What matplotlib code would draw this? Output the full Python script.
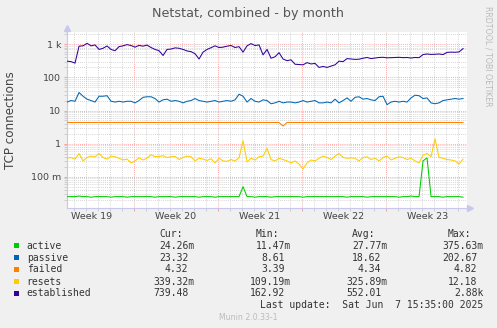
import numpy as np
import matplotlib
matplotlib.use("Agg")
import matplotlib.pyplot as plt
from matplotlib.ticker import FixedLocator, LogLocator, NullFormatter
from matplotlib.patches import Rectangle

# ---------------- data ----------------
series_names = ["active", "passive", "failed", "resets", "established"]
series_colors = ["#00CC00", "#0066B3", "#FF8000", "#FFCC00", "#330099"]

# sample times in days relative to Monday of week 20 (one sample every 8 hours)
t_start = -5.58
t_step = 1.0 / 3.0

active = [0.025, 0.025, 0.025, 0.026, 0.025, 0.025, 0.024, 0.025, 0.025, 0.025,
          0.025, 0.024, 0.025, 0.025, 0.025, 0.024, 0.025, 0.025, 0.025, 0.025,
          0.025, 0.025, 0.024, 0.025, 0.025, 0.025, 0.025, 0.024, 0.025, 0.025,
          0.025, 0.025, 0.025, 0.024, 0.025, 0.025, 0.025, 0.024, 0.025, 0.025,
          0.025, 0.025, 0.025, 0.025, 0.050, 0.025, 0.025, 0.024, 0.025, 0.025,
          0.025, 0.024, 0.025, 0.025, 0.025, 0.025, 0.025, 0.025, 0.025, 0.024,
          0.025, 0.025, 0.025, 0.025, 0.025, 0.025, 0.025, 0.025, 0.025, 0.025,
          0.024, 0.025, 0.025, 0.025, 0.025, 0.024, 0.025, 0.025, 0.025, 0.025,
          0.025, 0.025, 0.025, 0.024, 0.025, 0.025, 0.026, 0.025, 0.025, 0.300,
          0.370, 0.025, 0.025, 0.025, 0.024, 0.025, 0.025, 0.025, 0.025, 0.024]

passive = [18, 20, 19, 35, 27, 22, 20, 18, 27, 27,
           28, 19, 18, 19, 18, 19, 19, 17, 20, 25,
           26, 26, 23, 18, 21, 22, 19, 20, 19, 17,
           19, 20, 23, 20, 19, 18, 19, 20, 18, 19,
           20, 19, 21, 31, 27, 18, 23, 19, 18, 21,
           20, 16, 17, 19, 17, 18, 18, 17, 18, 20,
           18, 19, 20, 17, 17, 18, 17, 22, 17, 20,
           24, 19, 25, 26, 22, 23, 21, 20, 26, 27,
           15, 18, 19, 18, 19, 18, 24, 29, 28, 23,
           24, 17, 16, 17, 20, 21, 22, 23, 22, 23]

failed = [4.35, 4.35, 4.36, 4.34, 4.35, 4.35, 4.34, 4.35, 4.36, 4.35,
          4.35, 4.34, 4.35, 4.35, 4.35, 4.36, 4.35, 4.34, 4.35, 4.35,
          4.35, 4.35, 4.34, 4.35, 4.35, 4.36, 4.35, 4.35, 4.34, 4.35,
          4.35, 4.35, 4.35, 4.34, 4.35, 4.35, 4.36, 4.35, 4.35, 4.34,
          4.35, 4.35, 4.35, 4.35, 4.35, 4.34, 4.35, 4.35, 4.35, 4.36,
          4.35, 4.35, 4.34, 4.35, 3.39, 4.35, 4.35, 4.35, 4.34, 4.35,
          4.35, 4.35, 4.36, 4.35, 4.35, 4.34, 4.35, 4.35, 4.35, 4.35,
          4.34, 4.35, 4.35, 4.35, 4.36, 4.35, 4.35, 4.34, 4.35, 4.35,
          4.35, 4.35, 4.35, 4.34, 4.35, 4.35, 4.35, 4.36, 4.35, 4.35,
          4.34, 4.35, 4.35, 4.35, 4.35, 4.34, 4.35, 4.35, 4.33, 4.32]

resets = [0.36, 0.38, 0.34, 0.50, 0.30, 0.38, 0.42, 0.40, 0.50, 0.38,
          0.34, 0.42, 0.40, 0.36, 0.32, 0.34, 0.26, 0.30, 0.37, 0.32,
          0.36, 0.46, 0.40, 0.41, 0.43, 0.38, 0.40, 0.41, 0.33, 0.38,
          0.42, 0.40, 0.30, 0.36, 0.34, 0.31, 0.35, 0.26, 0.36, 0.30,
          0.29, 0.33, 0.30, 0.37, 1.22, 0.28, 0.36, 0.32, 0.40, 0.42,
          0.72, 0.33, 0.30, 0.36, 0.33, 0.30, 0.26, 0.30, 0.24, 0.17,
          0.26, 0.32, 0.30, 0.36, 0.42, 0.38, 0.33, 0.42, 0.50, 0.38,
          0.36, 0.37, 0.36, 0.30, 0.38, 0.40, 0.33, 0.36, 0.30, 0.38,
          0.42, 0.32, 0.36, 0.40, 0.38, 0.33, 0.36, 0.30, 0.26, 0.45,
          0.50, 0.40, 1.40, 0.38, 0.36, 0.33, 0.32, 0.30, 0.24, 0.34]

established = [310, 300, 270, 880, 900, 1070, 900, 960, 700, 760,
               890, 700, 640, 850, 900, 980, 920, 820, 930, 880,
               950, 800, 700, 640, 460, 700, 720, 780, 760, 700,
               630, 600, 520, 360, 580, 700, 790, 900, 800, 820,
               880, 920, 800, 850, 580, 900, 1050, 920, 960, 480,
               700, 380, 420, 560, 360, 320, 340, 250, 245, 240,
               280, 255, 265, 200, 215, 200, 220, 240, 310, 300,
               370, 360, 350, 355, 380, 400, 370, 385, 400, 405,
               390, 395, 400, 405, 395, 400, 385, 400, 395, 490,
               510, 495, 500, 510, 490, 570, 580, 575, 590, 740]

series_values = [active, passive, failed, resets, established]

week_labels = ["Week 19", "Week 20", "Week 21", "Week 22", "Week 23"]
week_mid_days = [-3.5, 3.5, 10.5, 17.5, 24.5]
week_start_days = [0, 7, 14, 21]

ytick_vals = [0.1, 1, 10, 100, 1000]
ytick_labels = ["100 m", "1", "10", "100", "1 k"]

stat_cur = ["24.26m", "23.32", "4.32", "339.32m", "739.48"]
stat_min = ["11.47m", "8.61", "3.39", "109.19m", "162.92"]
stat_avg = ["27.77m", "18.62", "4.34", "325.89m", "552.01"]
stat_max = ["375.63m", "202.67", "4.82", "12.18", "2.88k"]

title = "Netstat, combined - by month"
ylabel = "TCP connections"
last_update = "Last update:  Sat Jun  7 15:35:00 2025"
version = "Munin 2.0.33-1"
side_text = "RRDTOOL / TOBI OETIKER"

# ---------------- layout ----------------
W, H = 497, 328
def fx(px):
    return px / W
def fy(py):
    return 1 - py / H

BG = "#F0F0F0"
TXT = "#333333"
MAJ = "#FF8C8C"
MIN = "#C8C8C8"
AXC = "#C8C8EE"

fig = plt.figure(figsize=(W / 100, H / 100), dpi=100, facecolor=BG)
ax = fig.add_axes([fx(67), fy(208), 400 / W, 176 / H])
ax.set_facecolor("white")

n = len(established)
t = t_start + np.arange(n) * t_step
for name, col, vals in zip(series_names, series_colors, series_values):
    ax.plot(t, vals, color=col, lw=0.75, solid_joinstyle="round", zorder=3)

ax.set_yscale("log")
ax.set_ylim(10 ** -1.946, 10 ** 3.372)
ax.set_xlim(-67 / 12, 333 / 12)

ax.xaxis.set_major_locator(FixedLocator(week_start_days))
ax.xaxis.set_minor_locator(FixedLocator(np.arange(-5, 28)))
ax.set_xticklabels([])
ax.yaxis.set_major_locator(FixedLocator(ytick_vals))
ax.set_yticklabels(ytick_labels)
ax.yaxis.set_minor_locator(LogLocator(base=10, subs=np.arange(2, 10)))
ax.yaxis.set_minor_formatter(NullFormatter())

ax.set_axisbelow(True)
ax.grid(True, which="minor", color=MIN, lw=0.6, ls=(0, (1, 1.5)))
ax.grid(True, which="major", color=MAJ, lw=0.6, ls=(0, (1, 1.5)))

ax.tick_params(axis="both", which="major", length=2, width=0.6, color=MAJ,
               labelsize=6.8, labelcolor="#444444", pad=2.2)
ax.tick_params(axis="both", which="minor", length=2, width=0.6, color=MIN)

for s in ["top", "right"]:
    ax.spines[s].set_visible(False)
for s in ["left", "bottom"]:
    ax.spines[s].set_color(AXC)
    ax.spines[s].set_linewidth(0.8)

# axis arrows
ax.plot([0, 0], [1, 1 + 4 / 176], color=AXC, lw=0.8, transform=ax.transAxes, clip_on=False)
ax.plot([0], [1 + 4 / 176], marker="^", ms=4, color=AXC, mec=AXC, transform=ax.transAxes, clip_on=False)
ax.plot([1, 1 + 3 / 400], [0, 0], color=AXC, lw=0.8, transform=ax.transAxes, clip_on=False)
ax.plot([1 + 3 / 400], [0], marker=">", ms=4, color=AXC, mec=AXC, transform=ax.transAxes, clip_on=False)

# week labels
for d, lab in zip(week_mid_days, week_labels):
    ax.text(d, -8.7 / 176, lab, transform=ax.get_xaxis_transform(), ha="center", va="center",
            fontsize=6.8, color="#444444")

# titles
fig.text(fx(248.5), fy(13.3), title, ha="center", va="center", fontsize=9.2, color="#555555")
fig.text(fx(11), fy(120), ylabel, ha="center", va="center", rotation=90, fontsize=8.6, color="#444444")
fig.text(fx(488), fy(56.5), side_text, ha="center", va="center", rotation=270, fontsize=5.7, color="#BBBBBB")

# legend
mono = "DejaVu Sans Mono"
cw = 5.85
rows_y = [245.7, 257.7, 269.3, 281.7, 293.3]
hdr_y = 234.0
for lab, x in zip(["Cur:", "Min:", "Avg:", "Max:"], [159, 256, 352, 448]):
    fig.text(fx(x), fy(hdr_y), lab, ha="left", va="center", family=mono, fontsize=7, color=TXT)
col_right = [194.3, 291.0, 387.3, 483.3]
for i, (name, col) in enumerate(zip(series_names, series_colors)):
    y = rows_y[i]
    fig.patches.append(Rectangle((fx(14), fy(y + 2.7)), 5.4 / W, 5.4 / H, transform=fig.transFigure,
                                 facecolor=col, edgecolor="none"))
    fig.text(fx(26.7), fy(y), name, ha="left", va="center", family=mono, fontsize=7, color=TXT)
    for stats, xr in zip([stat_cur, stat_min, stat_avg, stat_max], col_right):
        s = stats[i]
        xe = xr if not s[-1].isdigit() else xr - cw
        fig.text(fx(xe), fy(y), s, ha="right", va="center", family=mono, fontsize=7, color=TXT)

fig.text(fx(483.3), fy(305.3), last_update, ha="right", va="center", family=mono, fontsize=7, color=TXT)
fig.text(fx(248.7), fy(317.3), version, ha="center", va="center", fontsize=5.6, color="#BBBBBB")

fig.savefig("out.png", dpi=100, facecolor=BG)
